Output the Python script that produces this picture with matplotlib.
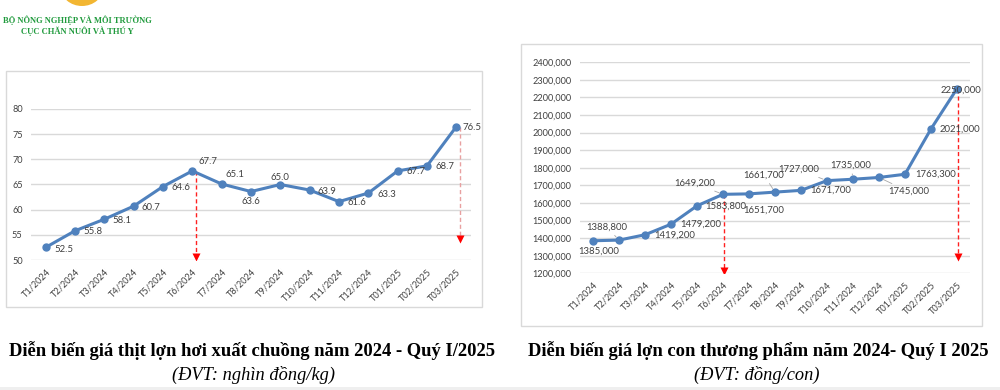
import numpy as np
import matplotlib
matplotlib.use('Agg')
from matplotlib import pyplot as plt
from matplotlib.patches import Rectangle, Ellipse

# data
months = ['T1/2024', 'T2/2024', 'T3/2024', 'T4/2024', 'T5/2024', 'T6/2024',
          'T7/2024', 'T8/2024', 'T9/2024', 'T10/2024', 'T11/2024', 'T12/2024',
          'T01/2025', 'T02/2025', 'T03/2025']
pork_price = [52.5, 55.8, 58.1, 60.7, 64.6, 67.7, 65.1, 63.6, 65.0, 63.9,
              61.6, 63.3, 67.7, 68.7, 76.5]
piglet_price = [1385000, 1388800, 1419200, 1479200, 1583800, 1649200, 1651700,
                1661700, 1671700, 1727000, 1735000, 1745000, 1763300, 2021000,
                2250000]
pork_ticks = [50, 55, 60, 65, 70, 75, 80]
piglet_ticks = list(range(1200000, 2400001, 100000))
# red arrows: (month index, value where the arrow ends)
pork_arrows = [(5, 50.6), (14, 54.2)]
piglet_arrows = [(5, 1215000), (14, 1295000)]

title_left = 'Diễn biến giá thịt lợn hơi xuất chuồng năm 2024 - Quý I/2025'
unit_left = '(ĐVT: nghìn đồng/kg)'
title_right = 'Diễn biến giá lợn con thương phẩm năm 2024- Quý I 2025'
unit_right = '(ĐVT: đồng/con)'

BLUE = '#4f81bd'
TXT = '#404040'
GRID = '#d9d9d9'
FONT = 'Lato'

# label placement in pixels (dx, dy, ha, leader line)
pork_lbl = [(9, -2, 'left'), (8, -1, 'left'), (8, -1, 'left'), (8, -1, 'left'),
            (9, -1, 'left'), (6, 9, 'left'), (4, 9, 'left'), (0, -10, 'center'),
            (0, 7, 'center'), (8, -1, 'left'), (9, -1, 'left'), (9, -1, 'left'),
            (9, -1, 'left'), (8, -1, 'left'), (6, -1, 'left')]
piglet_lbl = [(6, -10, 'center', False), (-12, 13, 'center', True),
              (9, 0, 'left', False), (9, 0, 'left', False), (8, 0, 'left', False),
              (-8, 11, 'right', True), (15, -16, 'center', False),
              (-11, 17, 'center', True), (9, 0, 'left', False),
              (-8, 11, 'right', True), (-2, 14, 'center', True),
              (9, -14, 'left', True), (10, 0, 'left', False), (9, 0, 'left', False),
              (4, -2, 'center', False)]


def vnd(v):
    v = int(round(v))
    return '%d,%03d' % (v // 1000, v % 1000)


fig = plt.figure(figsize=(10, 3.9), dpi=100)

# panel frames
fig.patches.append(Rectangle((6 / 1000, 1 - 307 / 390), 476 / 1000, 236 / 390,
                             transform=fig.transFigure, fill=False,
                             edgecolor=GRID, lw=1))
fig.patches.append(Rectangle((521 / 1000, 1 - 326 / 390), 461 / 1000, 282 / 390,
                             transform=fig.transFigure, fill=False,
                             edgecolor=GRID, lw=1))
# bottom strip
fig.patches.append(Rectangle((0, 0), 1, 3 / 390, transform=fig.transFigure,
                             color='#efefef', lw=0))
# logo stub and header
fig.patches.append(Ellipse((82 / 1000, 1 + 12 / 390), 42 / 1000, 36 / 390,
                           transform=fig.transFigure, color='#f2b632', lw=0))
fig.text(77 / 1000, 1 - 20 / 390, 'BỘ NÔNG NGHIỆP VÀ MÔI TRƯỜNG',
         family='Liberation Serif', weight='bold', size=6.1, color='#1f9a3c',
         ha='center', va='center')
fig.text(77 / 1000, 1 - 31 / 390, 'CỤC CHĂN NUÔI VÀ THÚ Y',
         family='Liberation Serif', weight='bold', size=6.1, color='#1f9a3c',
         ha='center', va='center')


def setup(ax, ticks, fmt):
    ax.set_xlim(-0.5, len(months) - 0.5)
    ax.set_ylim(ticks[0], ticks[-1])
    ax.set_yticks(ticks)
    ax.set_yticklabels([fmt(t) for t in ticks], family=FONT, size=6.6, color=TXT)
    ax.set_xticks(range(len(months)))
    ax.set_xticklabels(months, rotation=45, ha='right', va='top',
                       rotation_mode='anchor', family=FONT, size=6.6, color=TXT)
    ax.tick_params(length=0, pad=5)
    ax.tick_params(axis='y', pad=6)
    for s in ax.spines.values():
        s.set_visible(False)
    ax.grid(axis='y', color=GRID, lw=1)
    ax.set_axisbelow(True)
    ax.patch.set_alpha(0)


def arrows(ax, data, arr, dx):
    for k, (i, end) in enumerate(arr):
        col = '#e8a0a0' if (k == 1 and ax is ax1) else '#ff2020'
        ax.plot([i + dx, i + dx], [data[i], end], ls=(0, (3, 2)), color=col,
                lw=1, zorder=1)
        ax.plot([i + dx], [end], marker='v', ms=5.5, color='#ff0000', mec='none',
                zorder=1)


# left chart
ax1 = fig.add_axes([31 / 1000, 1 - 260 / 390, 440 / 1000, 151 / 390])
setup(ax1, pork_ticks, lambda t: '%d' % t)
arrows(ax1, pork_price, pork_arrows, 0.12)
ax1.plot(range(len(months)), pork_price, color=BLUE, lw=2.2, marker='o', ms=5,
         zorder=3)
for i, v in enumerate(pork_price):
    dx, dy, ha = pork_lbl[i]
    ax1.annotate('%.1f' % v, (i, v), xytext=(dx, dy), textcoords='offset pixels',
                 ha=ha, va='center', family=FONT, size=6.9, color=TXT, zorder=4)

# right chart
ax2 = fig.add_axes([580 / 1000, 1 - 273.3 / 390, 390 / 1000, 211 / 390])
setup(ax2, piglet_ticks, vnd)
arrows(ax2, piglet_price, piglet_arrows, 0.05)
ax2.plot(range(len(months)), piglet_price, color=BLUE, lw=2.2, marker='o', ms=5,
         zorder=3)
for i, v in enumerate(piglet_price):
    dx, dy, ha, lead = piglet_lbl[i]
    ap = None
    if lead:
        ap = dict(arrowstyle='-', color='#a6a6a6', lw=0.6, shrinkA=1, shrinkB=3)
    ax2.annotate(vnd(v), (i, v), xytext=(dx, dy), textcoords='offset pixels',
                 ha=ha, va='center', family=FONT, size=6.9, color=TXT, zorder=4,
                 arrowprops=ap)

# titles
fig.text(252 / 1000, 1 - 351 / 390, title_left, family='Liberation Serif',
         weight='bold', size=13.4, ha='center', va='center', color='black')
fig.text(253 / 1000, 1 - 375 / 390, unit_left, family='Liberation Serif',
         style='italic', size=13.2, ha='center', va='center', color='black')
fig.text(758 / 1000, 1 - 351 / 390, title_right, family='Liberation Serif',
         weight='bold', size=13.4, ha='center', va='center', color='black')
fig.text(757 / 1000, 1 - 375 / 390, unit_right, family='Liberation Serif',
         style='italic', size=13.2, ha='center', va='center', color='black')

fig.savefig('out.png', dpi=100)
